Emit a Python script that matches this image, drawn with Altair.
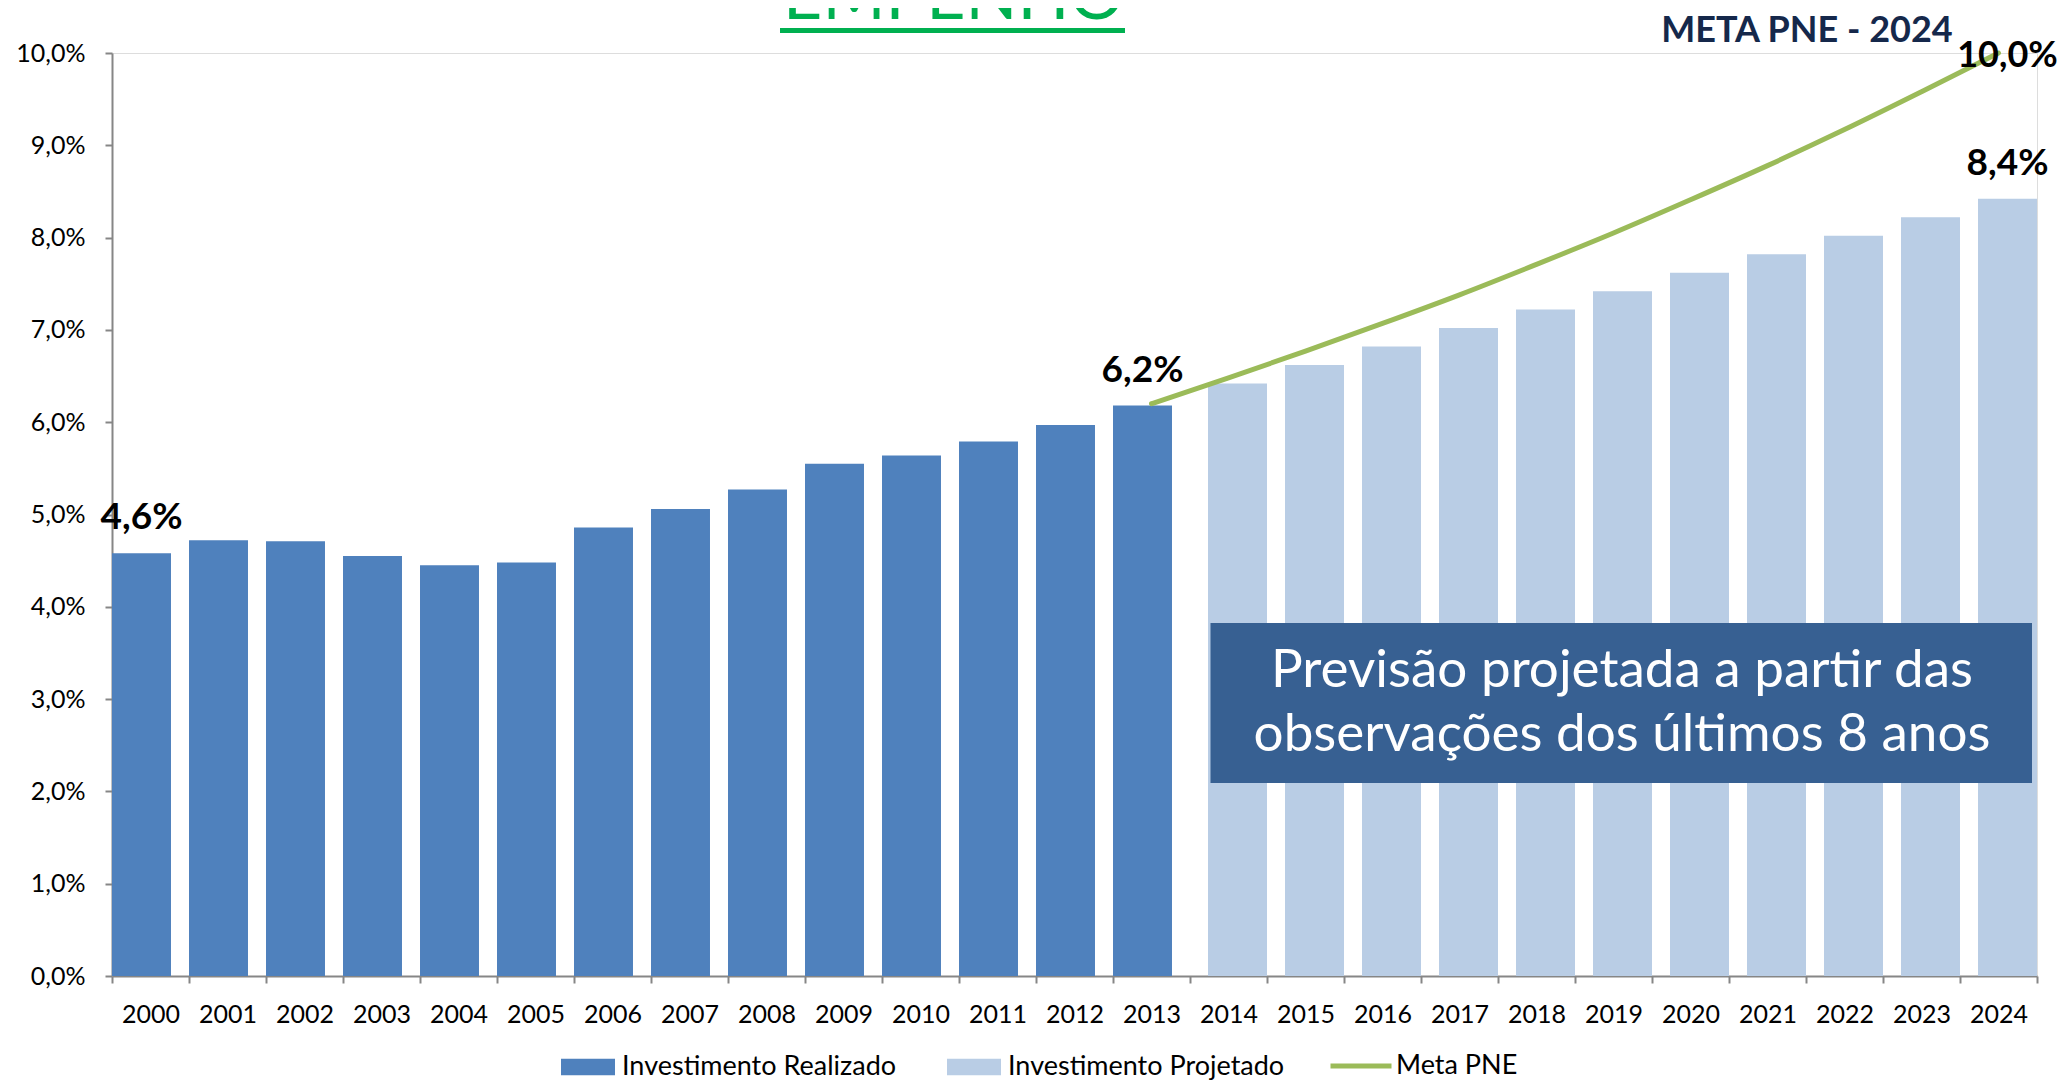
import altair as alt
import pandas as pd

# ---- data ----
anos_realizado = [str(a) for a in range(2000, 2014)]
valores_realizado = [4.58, 4.72, 4.71, 4.55, 4.45, 4.48, 4.86, 5.06, 5.27, 5.55, 5.64, 5.79, 5.97, 6.18]

anos_projetado = [str(a) for a in range(2014, 2025)]
valores_projetado = [6.42, 6.62, 6.82, 7.02, 7.22, 7.42, 7.62, 7.82, 8.02, 8.22, 8.42]

anos_meta = [str(a) for a in range(2013, 2025)]
valores_meta = [6.20, 6.48, 6.77, 7.07, 7.38, 7.71, 8.05, 8.41, 8.78, 9.17, 9.58, 10.0]

rotulos_barra = {"2000": "4,6%", "2013": "6,2%", "2024": "8,4%"}
rotulo_meta = "10,0%"

todos_anos = [str(a) for a in range(2000, 2025)]

df_real = pd.DataFrame({"ano": anos_realizado, "valor": valores_realizado,
                        "tipo": "Investimento Realizado"})
df_proj = pd.DataFrame({"ano": anos_projetado, "valor": valores_projetado,
                        "tipo": "Investimento Projetado"})
df_meta = pd.DataFrame({"ano": anos_meta, "valor": valores_meta, "serie": "Meta PNE"})
df_real["rotulo"] = df_real["ano"].map(rotulos_barra).fillna("")
df_proj["rotulo"] = df_proj["ano"].map(rotulos_barra).fillna("")
df_meta["rotulo"] = [""] * (len(df_meta) - 1) + [rotulo_meta]

FONT = "Lato"
W, H = 1925, 923

x_scale = alt.Scale(domain=todos_anos, paddingInner=0, paddingOuter=0)
y_scale = alt.Scale(domain=[0, 10], nice=False, zero=True)

x_axis = alt.Axis(title=None, labelAngle=0, labelFont=FONT, labelFontSize=25, labelColor="#000000",
                  labelPadding=19, tickSize=7, tickBand="extent", tickColor="#868686", tickWidth=2,
                  domainColor="#868686", domainWidth=2, grid=False)
y_axis = alt.Axis(title=None, values=list(range(0, 11)), labelFont=FONT, labelFontSize=25,
                  labelColor="#000000", labelPadding=20, tickSize=7, tickColor="#868686", tickWidth=2,
                  domainColor="#868686", domainWidth=2, grid=False,
                  labelExpr="replace(format(datum.value, '.1f'), '.', ',') + '%'")

color_scale = alt.Scale(domain=["Investimento Realizado", "Investimento Projetado"],
                        range=["#4F81BD", "#B9CDE5"])
bar_legend = alt.Legend(title=None, orient="none", legendX=449, legendY=987, direction="horizontal",
                        symbolType="M-1,-0.31H1V0.31H-1Z", symbolSize=2916, symbolStrokeWidth=0,
                        labelFont=FONT, labelFontSize=27, labelColor="#000000", labelOffset=7,
                        columnPadding=50, padding=0, labelLimit=400)
line_legend = alt.Legend(title=None, orient="none", legendX=1216, legendY=980, direction="horizontal",
                         symbolType="stroke", symbolSize=3721, symbolStrokeWidth=5,
                         labelFont=FONT, labelFontSize=27, labelColor="#000000", labelOffset=2,
                         padding=0)

bars_real = alt.Chart(df_real).mark_bar(width={"band": 0.766}, xOffset=-9).encode(
    x=alt.X("ano:O", scale=x_scale, axis=x_axis, sort=todos_anos),
    y=alt.Y("valor:Q", scale=y_scale, axis=y_axis),
    color=alt.Color("tipo:N", scale=color_scale, legend=bar_legend),
)
bars_proj = alt.Chart(df_proj).mark_bar(width={"band": 0.766}, xOffset=9).encode(
    x=alt.X("ano:O", sort=todos_anos),
    y=alt.Y("valor:Q"),
    color=alt.Color("tipo:N"),
)
lab_real = alt.Chart(df_real).mark_text(dx=-9, dy=-24, baseline="alphabetic", align="center",
                                        font=FONT, fontSize=37, fontWeight="bold", color="#000000").encode(
    x=alt.X("ano:O", sort=todos_anos), y="valor:Q", text="rotulo:N")
lab_proj = alt.Chart(df_proj).mark_text(dx=9, dy=-24, baseline="alphabetic", align="center",
                                        font=FONT, fontSize=37, fontWeight="bold", color="#000000").encode(
    x=alt.X("ano:O", sort=todos_anos), y="valor:Q", text="rotulo:N")

line = alt.Chart(df_meta).mark_line(strokeWidth=5, interpolate="monotone", strokeCap="round").encode(
    x=alt.X("ano:O", sort=todos_anos),
    y="valor:Q",
    stroke=alt.Stroke("serie:N", scale=alt.Scale(domain=["Meta PNE"], range=["#9BBB59"]),
                      legend=line_legend),
)
lab_meta = alt.Chart(df_meta).mark_text(dx=9, dy=14, baseline="alphabetic", align="center",
                                        font=FONT, fontSize=36, fontWeight="bold", color="#000000").encode(
    x=alt.X("ano:O", sort=todos_anos), y="valor:Q", text="rotulo:N")

# annotations
box = alt.Chart(pd.DataFrame({"k": [0]})).mark_rect(color="#376092").encode(
    x=alt.value(1098.5), x2=alt.value(1920), y=alt.datum(3.824), y2=alt.datum(2.091))
box_text = alt.Chart(pd.DataFrame({"t": ["Previsão projetada a partir das\nobservações dos últimos 8 anos"]})).mark_text(
    font=FONT, fontSize=53, color="#FFFFFF", align="center", baseline="alphabetic",
    lineBreak="\n", lineHeight=64).encode(
    text="t:N", x=alt.value(1510), y=alt.value(634))

meta_title = alt.Chart(pd.DataFrame({"t": ["META PNE - 2024"]})).mark_text(
    font=FONT, fontSize=36, fontWeight="bold", color="#15284B", align="center", baseline="alphabetic").encode(
    text="t:N", x=alt.value(1695), y=alt.value(-11.5))

title_txt = alt.Chart(pd.DataFrame({"t": ["EMPENHO"]})).mark_text(
    font=FONT, fontSize=68, color="#00B050", align="center", baseline="alphabetic").encode(
    text="t:N", x=alt.value(841.5), y=alt.value(-34))
title_line = alt.Chart(pd.DataFrame({"k": [0]})).mark_rule(color="#00B050", strokeWidth=5).encode(
    x=alt.value(668), x2=alt.value(1013), y=alt.value(-22.5))

chart = alt.layer(
    bars_real, bars_proj, line, lab_real, lab_proj, lab_meta, box, box_text, meta_title, title_txt, title_line
).properties(
    width=W, height=H,
    autosize=alt.AutoSizeParams(type="none"),
    padding={"left": 104, "top": 45, "right": 20, "bottom": 104},
).configure_view(stroke=None).configure(font=FONT, background="#FFFFFF")

chart.save("out.html", embed_options={"renderer": "svg", "actions": False})
